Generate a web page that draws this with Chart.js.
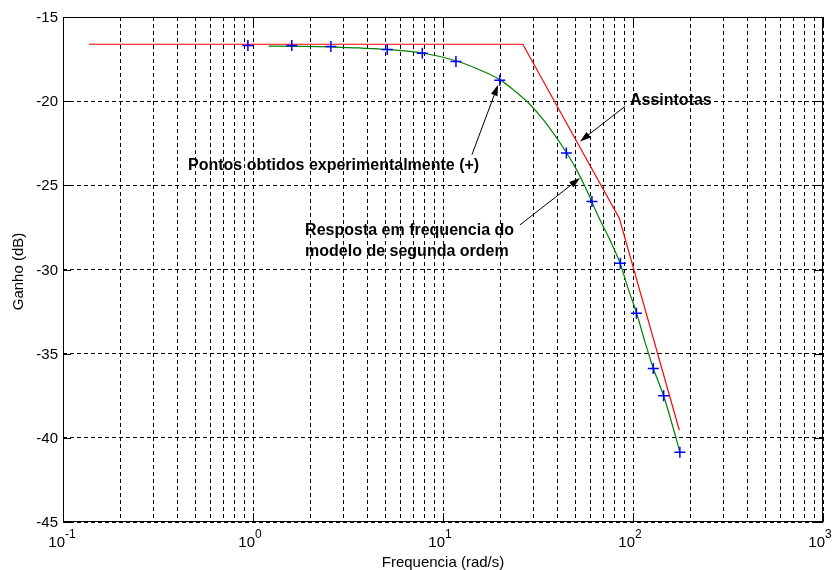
<!DOCTYPE html>
<html>
<head>
<meta charset="utf-8">
<script src="https://cdn.jsdelivr.net/npm/chart.js@4.4.1/dist/chart.umd.min.js"></script>
<style>
  html, body { margin: 0; padding: 0; background: #fff; }
  #wrap { width: 835px; height: 570px; }
</style>
</head>
<body>
<div id="wrap"><canvas id="bode"></canvas></div>
<script>
// pontos experimentais (+)
const expFreq = [0.94, 1.60, 2.57, 5.09, 7.78, 11.7, 19.9, 44.6, 60.8, 85.8, 104.2, 127.9, 145.0, 176.5];
const expGain = [-16.70, -16.70, -16.75, -16.93, -17.15, -17.65, -18.76, -23.08, -25.96, -29.63, -32.60, -35.88, -37.50, -40.85];

// modelo de segunda ordem
const modelFreq = [1.21, 1.6, 2.57, 3.6, 5.09, 7.78, 11.7, 15.3, 19.9, 23.9, 28.7, 33.7, 39.7, 44.8, 50.5, 55.9, 60.6, 67.0, 75.6, 85.5, 94.4, 104.5, 115.6, 128.0, 144.6, 169.8, 176.5];
const modelGain = [-16.73, -16.74, -16.77, -16.84, -16.93, -17.14, -17.60, -18.10, -18.72, -19.40, -20.20, -21.10, -22.20, -23.08, -24.08, -25.07, -25.96, -27.05, -28.24, -29.63, -31.15, -32.60, -34.30, -35.88, -37.47, -40.15, -40.85];

// assintotas
const asymFreq = [0.137, 26.3, 84.7, 175.3];
const asymGain = [-16.62, -16.62, -26.95, -39.55];

// rotulos dos eixos
const xTickValues = [0.1, 1, 10, 100, 1000];
const xTickExp = ["-1", "0", "1", "2", "3"];
const yTickValues = [-15, -20, -25, -30, -35, -40, -45];

// anotacoes (posicao em coordenadas de dados)
const noteText = ["Pontos obtidos experimentalmente (+)", "Assintotas", "Resposta em frequencia do", "modelo de segunda ordem"];
const noteFreq = [0.455, 96.4, 1.88, 1.88];
const noteGain = [-23.84, -19.95, -27.71, -28.96];

// setas: cauda -> ponta
const arrowTail = [[14.2, -23.18], [90.8, -20.31], [25.4, -27.35]];
const arrowHead = [[19.5, -19.02], [52.6, -22.39], [52.6, -24.57]];

const FONT = "'Liberation Sans', Arial, sans-serif";

function toXY(xs, ys) {
  return xs.map((x, i) => ({ x: x, y: ys[i] }));
}

function logTicks() {
  const t = [];
  for (let e = -1; e < 3; e++) {
    for (let m = 1; m <= 9; m++) t.push({ value: m * Math.pow(10, e) });
  }
  t.push({ value: 1000 });
  return t;
}

function drawArrow(ctx, x1, y1, x2, y2) {
  const ang = Math.atan2(y2 - y1, x2 - x1);
  const len = 11, half = 3.5;
  ctx.beginPath();
  ctx.moveTo(x1, y1);
  ctx.lineTo(x2 - Math.cos(ang) * len * 0.8, y2 - Math.sin(ang) * len * 0.8);
  ctx.stroke();
  ctx.beginPath();
  ctx.moveTo(x2, y2);
  ctx.lineTo(x2 - Math.cos(ang) * len - Math.sin(ang) * half, y2 - Math.sin(ang) * len + Math.cos(ang) * half);
  ctx.lineTo(x2 - Math.cos(ang) * len + Math.sin(ang) * half, y2 - Math.sin(ang) * len - Math.cos(ang) * half);
  ctx.closePath();
  ctx.fill();
}

const matlabAxes = {
  id: "matlabAxes",
  afterDraw(chart) {
    const ctx = chart.ctx;
    const a = chart.chartArea;
    const xs = chart.scales.x, ys = chart.scales.y;
    ctx.save();

    // caixa
    ctx.strokeStyle = "#000";
    ctx.lineWidth = 1;
    ctx.setLineDash([]);
    ctx.strokeRect(Math.round(a.left) + 0.5, Math.round(a.top) + 0.5, Math.round(a.right - a.left) - 1, Math.round(a.bottom - a.top) - 1);

    // marcas principais
    ctx.beginPath();
    xTickValues.forEach(v => {
      const px = Math.round(xs.getPixelForValue(v)) + 0.5;
      ctx.moveTo(px, a.bottom); ctx.lineTo(px, a.bottom - 9);
      ctx.moveTo(px, a.top); ctx.lineTo(px, a.top + 9);
    });
    yTickValues.forEach(v => {
      const py = Math.round(ys.getPixelForValue(v)) + 0.5;
      ctx.moveTo(a.left, py); ctx.lineTo(a.left + 8, py);
      ctx.moveTo(a.right, py); ctx.lineTo(a.right - 8, py);
    });
    ctx.stroke();

    // rotulos do eixo y
    ctx.fillStyle = "#000";
    ctx.font = "15px " + FONT;
    ctx.textAlign = "right";
    ctx.textBaseline = "middle";
    yTickValues.forEach(v => {
      ctx.fillText(String(v), a.left - 5, ys.getPixelForValue(v) + 1);
    });

    // rotulos do eixo x (10^n)
    ctx.textBaseline = "alphabetic";
    xTickValues.forEach((v, i) => {
      const px = xs.getPixelForValue(v);
      ctx.font = "15px " + FONT;
      ctx.textAlign = "right";
      ctx.fillText("10", px + 2, a.bottom + 25);
      ctx.font = "12px " + FONT;
      ctx.textAlign = "left";
      ctx.fillText(xTickExp[i], px + 2, a.bottom + 16);
    });

    // titulos
    ctx.font = "15px " + FONT;
    ctx.textAlign = "center";
    ctx.fillText("Frequencia (rad/s)", (a.left + a.right) / 2, a.bottom + 45);
    ctx.save();
    ctx.translate(23, (a.top + a.bottom) / 2 + 2);
    ctx.rotate(-Math.PI / 2);
    ctx.fillText("Ganho (dB)", 0, 0);
    ctx.restore();

    // anotacoes
    ctx.font = "bold 16px " + FONT;
    ctx.textAlign = "left";
    ctx.textBaseline = "middle";
    noteText.forEach((t, i) => {
      ctx.fillText(t, xs.getPixelForValue(noteFreq[i]), ys.getPixelForValue(noteGain[i]));
    });

    ctx.lineWidth = 1;
    ctx.strokeStyle = "#000";
    arrowTail.forEach((p, i) => {
      const h = arrowHead[i];
      drawArrow(ctx, xs.getPixelForValue(p[0]), ys.getPixelForValue(p[1]),
                     xs.getPixelForValue(h[0]), ys.getPixelForValue(h[1]));
    });
    ctx.restore();
  }
};

new Chart(document.getElementById("bode"), {
  type: "scatter",
  data: {
    datasets: [
      {
        label: "Pontos obtidos experimentalmente",
        data: toXY(expFreq, expGain),
        showLine: false,
        pointStyle: "cross",
        pointRadius: 5.5,
        pointBorderWidth: 1.5,
        borderColor: "#0000ff",
        backgroundColor: "#0000ff",
        order: 0
      },
      {
        label: "Modelo de segunda ordem",
        data: toXY(modelFreq, modelGain),
        showLine: true,
        borderColor: "#008000",
        borderWidth: 1.2,
        pointRadius: 0,
        cubicInterpolationMode: "monotone",
        order: 1
      },
      {
        label: "Assintotas",
        data: toXY(asymFreq, asymGain),
        showLine: true,
        borderColor: "#ff0000",
        borderWidth: 1.2,
        pointRadius: 0,
        tension: 0,
        order: 2
      }
    ]
  },
  options: {
    responsive: true,
    maintainAspectRatio: false,
    animation: false,
    events: [],
    layout: { padding: { left: 63, top: 17, right: 12, bottom: 48 } },
    plugins: { legend: { display: false }, tooltip: { enabled: false } },
    scales: {
      x: {
        type: "logarithmic",
        min: 0.1,
        max: 1000,
        afterBuildTicks: scale => { scale.ticks = logTicks(); },
        ticks: { display: false },
        grid: { color: "#000", lineWidth: 1, drawTicks: false },
        border: { display: false, dash: [4, 3] }
      },
      y: {
        min: -45,
        max: -15,
        ticks: { display: false, stepSize: 5 },
        grid: { color: "#000", lineWidth: 1, drawTicks: false },
        border: { display: false, dash: [4, 3] }
      }
    }
  },
  plugins: [matlabAxes]
});
</script>
</body>
</html>
